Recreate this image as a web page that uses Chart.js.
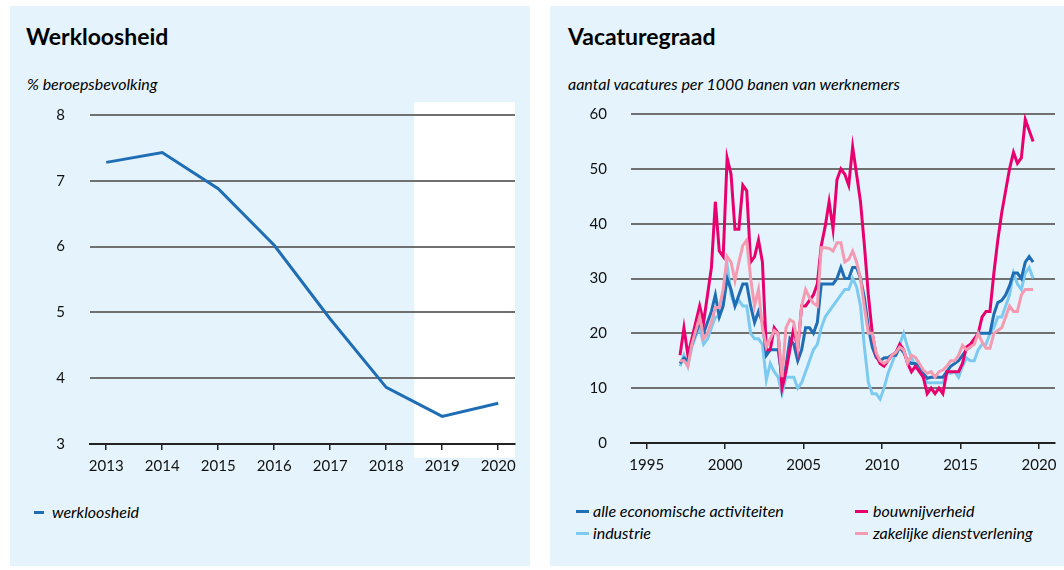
<!DOCTYPE html>
<html lang="nl">
<head>
<meta charset="utf-8">
<script src="https://cdn.jsdelivr.net/npm/chart.js@4.4.1/dist/chart.umd.min.js"></script>
<style>
  body { margin: 0; width: 1064px; height: 570px; background: #fff; position: relative; overflow: hidden;
         font-family: Lato, "Noto Sans", sans-serif; color: #000; }
  .panel { position: absolute; top: 6px; height: 560px; background: #e5f4fc; }
  #links { left: 10px; width: 520px; }
  #rechts { left: 550px; width: 514px; }
  .titel { position: absolute; top: 19px; font-weight: 700; font-size: 23px; line-height: 23px; }
  .sub { position: absolute; top: 70px; font-style: italic; font-size: 16px; line-height: 16px; }
  canvas { position: absolute; top: 94px; left: 0; }
  .streep { position: absolute; height: 3px; }
  .leg { position: absolute; font-style: italic; font-size: 16px; line-height: 20px; white-space: nowrap; }
</style>
</head>
<body>
<div class="panel" id="links">
  <div class="titel" style="left:16px">Werkloosheid</div>
  <div class="sub" style="left:17px">% beroepsbevolking</div>
  <canvas id="wlChart" width="520" height="380"></canvas>
  <div class="streep" style="left:24px; top:505px; width:10px; background:#1f6db4"></div>
  <div class="leg" style="left:42px; top:496px">werkloosheid</div>
</div>
<div class="panel" id="rechts">
  <div class="titel" style="left:18px">Vacaturegraad</div>
  <div class="sub" style="left:18px">aantal vacatures per 1000 banen van werknemers</div>
  <canvas id="vgChart" width="514" height="380"></canvas>
  <div class="streep" style="left:26px; top:504px; width:13px; background:#1f6db4"></div>
  <div class="leg" style="left:43px; top:495px">alle economische activiteiten</div>
  <div class="streep" style="left:26px; top:526px; width:13px; background:#7dcaf0"></div>
  <div class="leg" style="left:43px; top:517px">industrie</div>
  <div class="streep" style="left:305px; top:504px; width:13px; background:#e8006e"></div>
  <div class="leg" style="left:323px; top:495px">bouwnijverheid</div>
  <div class="streep" style="left:305px; top:526px; width:13px; background:#f59bb1"></div>
  <div class="leg" style="left:323px; top:517px">zakelijke dienstverlening</div>
</div>
<script>
// Werkloosheid, jaarcijfers (2019-2020 raming)
const wlJaren = [2013, 2014, 2015, 2016, 2017, 2018, 2019, 2020];
const werkloosheid = [7.28, 7.43, 6.88, 6.02, 4.9, 3.86, 3.42, 3.62];
const ramingVanaf = 2018.5;
const wlTicksY = [3, 4, 5, 6, 7, 8];

// Vacaturegraad, kwartalen 1997K1 t/m 2019K3
const startJaar = 1997;
const alle = [
  14.5, 15.5, 15, 18,   20, 22, 20, 22,   24, 27, 23, 25,   30, 28, 25, 27,
  29, 29, 25, 22,       24, 22, 16, 17,   17, 17, 12, 14,   19, 18, 15, 17,
  21, 21, 20, 22,       29, 29, 29, 29,   30, 32, 30, 30,   32, 32, 30, 26.5,
  21, 17.5, 15.6, 15,   15.5, 15.6, 16, 16,   17.5, 16.5, 15, 14.5,   14.5, 14, 12.7, 11.8,
  12, 12, 12, 12,       13, 14, 14.5, 15,   16, 17, 17.5, 18.7,   20, 20, 20, 20,
  23.5, 25.6, 26, 27,   28.7, 31, 31, 30,   33, 34, 33
];
const industrie = [
  14, 16, 14, 17.5,     19.5, 21, 18, 19,   21, 23, 23, 25.5,   32.5, 27, 25, 26,
  25, 25, 20, 19,       19, 18, 11.5, 14.5,   13, 12, 9, 12,   12, 12, 10, 11,
  13, 15, 17, 18,       21, 23, 24, 25,   26, 27, 28, 28,   30, 28.5, 25, 17.5,
  11, 9, 9, 8,          10, 12.7, 14.5, 16.4,   18, 20, 17.5, 15.5,   14, 13.3, 12, 11,
  11, 11, 11, 11,       12.7, 12.7, 13, 12,   14, 15.5, 15, 15,   17, 18, 18, 20,
  21, 23, 23, 25,       27, 31, 29, 28,   31, 32, 30
];
const bouw = [
  16, 21, 16, 19,       22, 25, 22, 27,   32, 44, 35, 34,   52, 49, 39, 39,
  47, 46, 33, 34,       37, 33, 17, 17,   21, 20, 10, 13,   17, 21, 17, 25,
  25, 26, 27, 29,       36, 39.5, 44, 39,   48, 50, 49, 47,   54, 49, 44, 36,
  27, 20, 16, 14.5,     14, 15, 16, 16.5,   18, 17, 14.5, 13,   14, 13, 12, 9,
  10, 9, 10, 9,         13, 13, 13, 13,   14.5, 17.5, 18, 19,   20, 23, 24, 24,
  31, 37, 42, 46,       50, 53, 51, 52,   59, 57, 55
];
const zakelijk = [
  15, 15, 14, 18,       20.5, 23, 19, 20,   22, 24.7, 24.7, 28,   34, 33, 29.6, 33,
  36, 37, 30, 25,       28, 21, 17.5, 19,   20.5, 20, 12, 21,   22.5, 22, 17.5, 25,
  28, 26.5, 25.5, 25,   35.6, 35.6, 35.5, 35,   36.5, 36.5, 33, 33.5,   35, 33, 30, 24.7,
  20, 20, 16.4, 15,     14.5, 15, 16, 16.5,   17.5, 17, 14.6, 16,   15.6, 14.5, 13.3, 12.7,
  13, 12, 13, 13.3,     14, 15, 15, 16,   17.8, 17, 17.5, 18,   20, 18.4, 17.3, 17.3,
  20, 20.5, 21, 23,     25, 24, 24, 27,   28, 28, 28
];
const vgTicksX = [1995, 2000, 2005, 2010, 2015, 2020];
const vgTicksY = [0, 10, 20, 30, 40, 50, 60];

// midden van elk kwartaal op de jaar-as
const kwartaalX = alle.map((_, k) => startJaar + k / 4 + 0.125);
const punten = (xs, ys) => ys.map((y, i) => ({ x: xs[i], y }));

const tickFont = { family: 'Lato, "Noto Sans", sans-serif', size: 15 };

// witte achtergrond voor de ramingsjaren
const ramingVlak = {
  id: 'ramingVlak',
  beforeDraw(chart, args, opts) {
    if (opts.from == null) return;
    const { ctx, chartArea: a, scales: { x } } = chart;
    const x0 = x.getPixelForValue(opts.from);
    ctx.save();
    ctx.fillStyle = '#ffffff';
    ctx.fillRect(x0, a.top - 13, a.right - x0, a.bottom - a.top + 27);
    ctx.restore();
  }
};

// vaste maten voor de assen, zodat het plotvlak op dezelfde plek ligt als in het origineel
function assen(xTicks, xMin, xMax, yTicks, yPad, xHoogte, yBreedte) {
  return {
    x: {
      type: 'linear', min: xMin, max: xMax,
      afterBuildTicks: s => { s.ticks = xTicks.map(v => ({ value: v })); },
      afterFit: s => { s.height = xHoogte; s.paddingLeft = 0; s.paddingRight = 0; },
      grid: { drawOnChartArea: false, drawTicks: true, tickLength: 6, color: '#222', lineWidth: 1.5 },
      border: { display: true, color: '#222', width: 2 },
      ticks: { padding: 7, color: '#111', font: tickFont, maxRotation: 0, autoSkip: false, callback: v => String(v) }
    },
    y: {
      type: 'linear', min: yTicks[0], max: yTicks[yTicks.length - 1],
      afterBuildTicks: s => { s.ticks = yTicks.map(v => ({ value: v })); },
      afterFit: s => { s.width = yBreedte; s.paddingTop = 0; s.paddingBottom = 0; },
      grid: {
        drawTicks: false, lineWidth: 2,
        color: c => (c.tick && c.tick.value === yTicks[0]) ? 'rgba(0,0,0,0)' : '#707070'
      },
      border: { display: false },
      ticks: { padding: yPad, color: '#111', font: tickFont, callback: v => String(v) }
    }
  };
}

const basis = {
  responsive: false, animation: false, devicePixelRatio: 1,
  elements: { point: { radius: 0 }, line: { tension: 0, borderWidth: 3 } },
  plugins: { legend: { display: false }, tooltip: { enabled: false } }
};

new Chart(document.getElementById('wlChart'), {
  type: 'line',
  data: {
    datasets: [
      { label: 'werkloosheid', data: punten(wlJaren, werkloosheid), borderColor: '#1f6db4' }
    ]
  },
  options: {
    ...basis,
    layout: { padding: { top: 15, right: 15, left: 0, bottom: 0 } },
    scales: assen(wlJaren, 2012.71, 2020.3, wlTicksY, 25, 36, 80),
    plugins: { ...basis.plugins, ramingVlak: { from: ramingVanaf } }
  },
  plugins: [ramingVlak]
});

new Chart(document.getElementById('vgChart'), {
  type: 'line',
  data: {
    datasets: [
      { label: 'zakelijke dienstverlening', data: punten(kwartaalX, zakelijk), borderColor: '#f59bb1', order: 0 },
      { label: 'bouwnijverheid', data: punten(kwartaalX, bouw), borderColor: '#e8006e', order: 1 },
      { label: 'alle economische activiteiten', data: punten(kwartaalX, alle), borderColor: '#1f6db4', order: 2 },
      { label: 'industrie', data: punten(kwartaalX, industrie), borderColor: '#7dcaf0', order: 3 }
    ]
  },
  options: {
    ...basis,
    layout: { padding: { top: 14, right: 9, left: 0, bottom: 0 } },
    scales: assen(vgTicksX, 1994, 2021.02, vgTicksY, 24, 37, 81)
  }
});
</script>
</body>
</html>
